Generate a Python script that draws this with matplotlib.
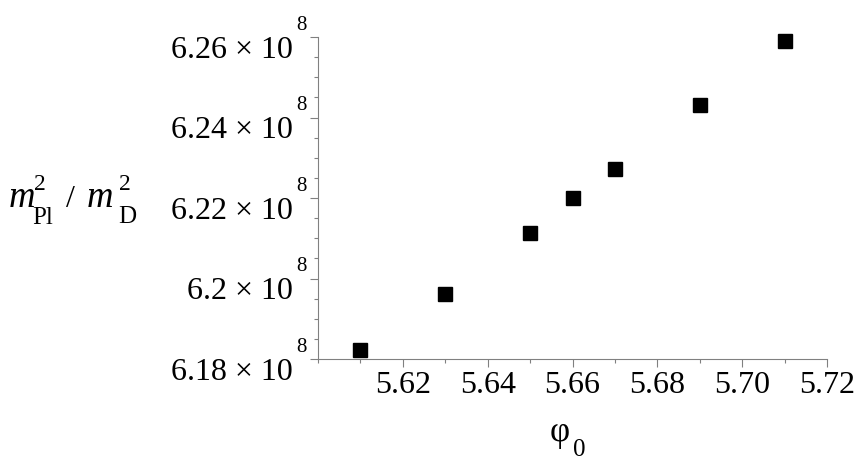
import matplotlib
matplotlib.use('Agg')
import matplotlib.pyplot as plt
from matplotlib.ticker import MultipleLocator

# data (m_Pl^2 / m_D^2 against phi_0)
phi0 = [5.61, 5.63, 5.65, 5.66, 5.67, 5.69, 5.71]
ratio = [6.1822e8, 6.1962e8, 6.2112e8, 6.2201e8, 6.2271e8, 6.2431e8, 6.2590e8]

xticks = [5.62, 5.64, 5.66, 5.68, 5.70, 5.72]
xtick_text = ['5.62', '5.64', '5.66', '5.68', '5.70', '5.72']
yticks = [6.18e8, 6.20e8, 6.22e8, 6.24e8, 6.26e8]
ytick_text = ['6.18', '6.2', '6.22', '6.24', '6.26']

plt.rcParams['font.family'] = 'Liberation Serif'

fs = 23
axis_grey = '#808080'
W, H = 862, 470

fig = plt.figure(figsize=(W / 100, H / 100), dpi=100)
ax = fig.add_axes([318 / W, 1 - 359 / H, (827 - 318) / W, (359 - 37) / H])

ax.plot(phi0, ratio, 's', color='black', markersize=9.4, clip_on=False)

ax.set_xlim(5.60, 5.72)
ax.set_ylim(6.18e8, 6.26e8)

ax.set_xticks(xticks, labels=xtick_text)
ax.set_yticks(yticks, labels=[''] * len(yticks))
ax.xaxis.set_minor_locator(MultipleLocator(0.01))
ax.yaxis.set_minor_locator(MultipleLocator(0.005e8))

for side in ['top', 'right']:
    ax.spines[side].set_visible(False)
for side in ['left', 'bottom']:
    ax.spines[side].set_color(axis_grey)
    ax.spines[side].set_linewidth(0.8)

ax.tick_params(which='major', direction='out', length=5.8, width=0.8, color=axis_grey)
ax.tick_params(which='minor', direction='out', length=2.9, width=0.8, color=axis_grey)
ax.tick_params(axis='x', labelsize=fs, pad=3)

# Maple-style y labels: mantissa below the tick, exponent raised above it
for v, t in zip(yticks, ytick_text):
    ax.annotate(t + ' × 10', xy=(0, v), xycoords=('axes fraction', 'data'),
                xytext=(-18, -9.4), textcoords='offset points',
                ha='right', va='center', fontsize=fs, annotation_clip=False)
    ax.annotate('8', xy=(0, v), xycoords=('axes fraction', 'data'),
                xytext=(-16, 8.6), textcoords='offset points',
                ha='left', va='center', fontsize=15, annotation_clip=False)


def ptext(x, y, s, size, style='normal', ha='left'):
    # place a piece of text by pixel position (y measured from the top)
    fig.text(x / W, 1 - y / H, s, fontsize=size, style=style, ha=ha, va='baseline')


# x label: phi with a low subscript 0
ptext(560, 441, 'φ', 25, ha='center')
ptext(573, 456, '0', 18)

# y label: m_Pl^2 / m_D^2
ptext(9, 207, 'm', 26.5, style='italic')
ptext(34, 190, '2', 17)
ptext(32, 224, 'Pl', 18)
ptext(66, 207, '/', 23)
ptext(87, 207, 'm', 26.5, style='italic')
ptext(119, 190, '2', 17)
ptext(118, 223, 'D', 18)

plt.savefig('out.png', dpi=100)
